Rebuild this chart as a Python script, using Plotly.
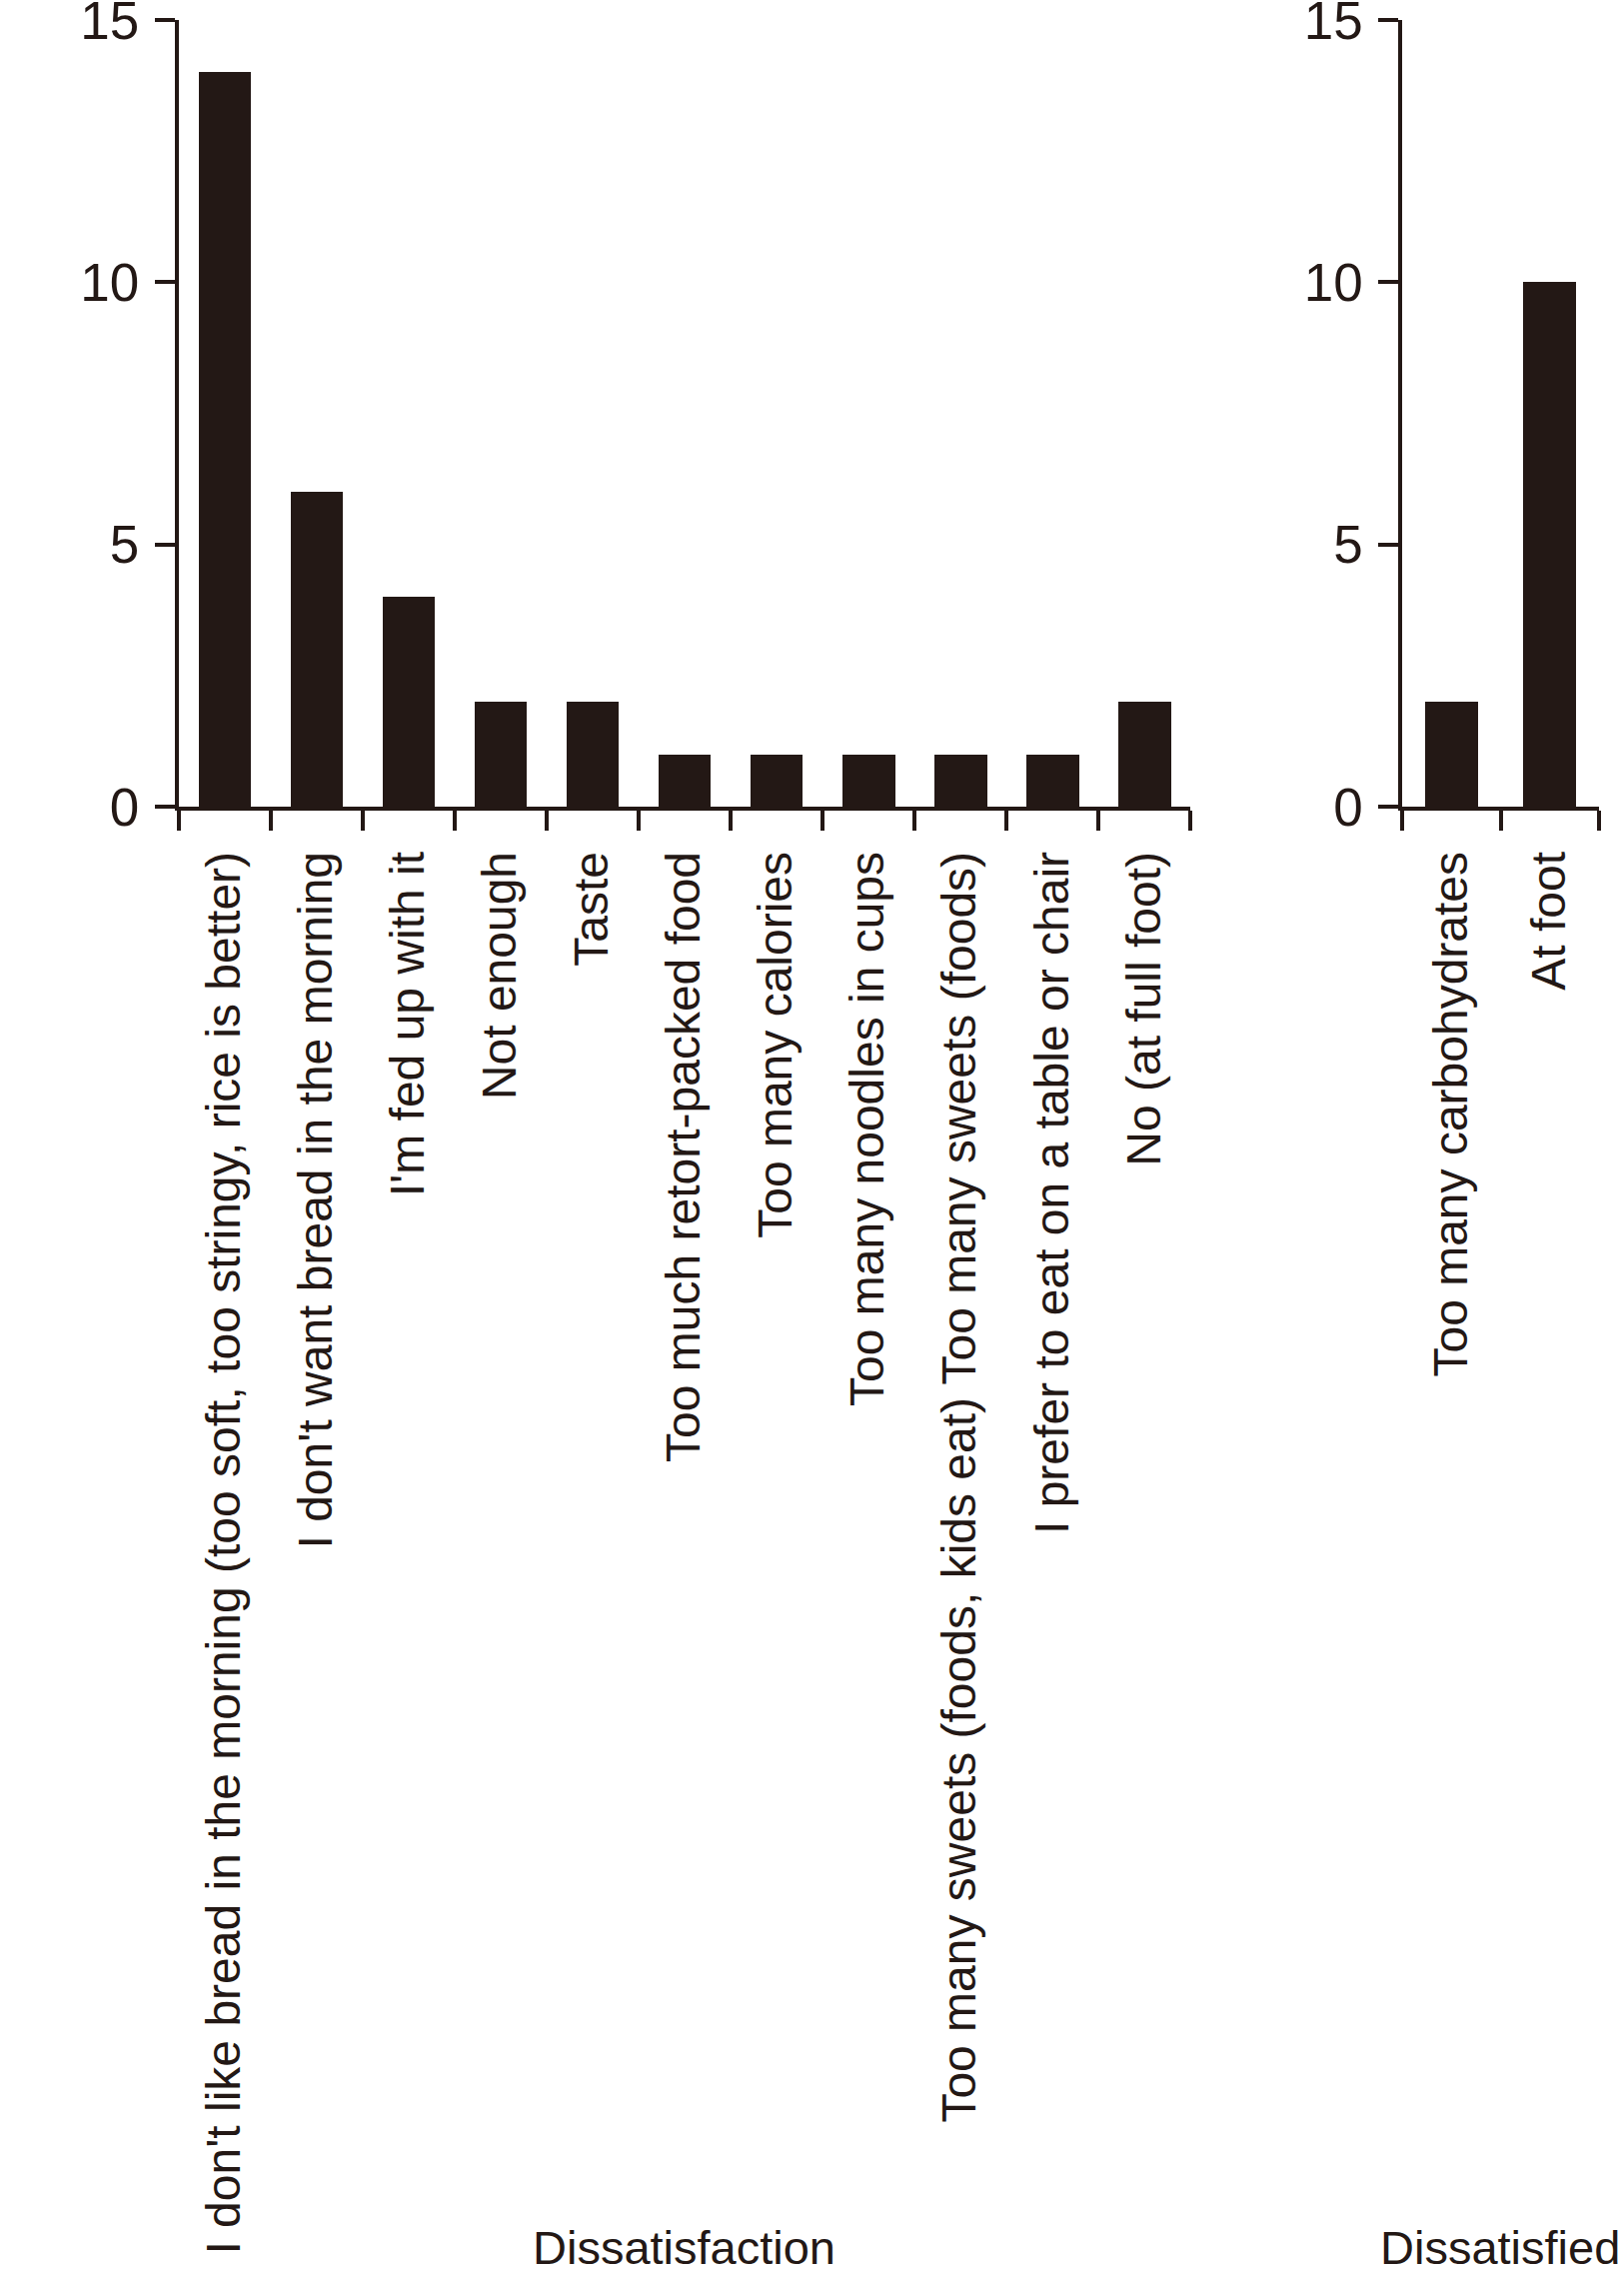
import plotly.graph_objects as go

# ---- data ----
left_categories = [
    "I don't like bread in the morning (too soft, too stringy, rice is better)",
    "I don't want bread in the morning",
    "I'm fed up with it",
    "Not enough",
    "Taste",
    "Too much retort-packed food",
    "Too many calories",
    "Too many noodles in cups",
    "Too many sweets (foods, kids eat) Too many sweets (foods)",
    "I prefer to eat on a table or chair",
    "No (at full foot)",
]
left_values = [14, 6, 4, 2, 2, 1, 1, 1, 1, 1, 2]

right_categories = ["Too many carbohydrates", "At foot"]
right_values = [2, 10]

y_ticks = [0, 5, 10, 15]
left_title = "Dissatisfaction"
right_title = "Dissatisfied"

# ---- style ----
W, H = 1625, 2273
INK = "#231815"
FONT = "Liberation Sans, Arial, Helvetica, sans-serif"
TOP = 20
PLOT_BOTTOM = 807
BOTTOM = H - PLOT_BOTTOM
plot_h = PLOT_BOTTOM - TOP

fig = go.Figure()
fig.add_trace(go.Bar(x=left_categories, y=left_values, marker=dict(color=INK, line=dict(width=0)),
                     width=0.57, xaxis="x", yaxis="y", showlegend=False))
fig.add_trace(go.Bar(x=right_categories, y=right_values, marker=dict(color=INK, line=dict(width=0)),
                     width=0.535, xaxis="x2", yaxis="y2", showlegend=False))

xcommon = dict(
    type="category", showgrid=False, zeroline=False, showline=True, linecolor=INK, linewidth=3.5,
    ticks="outside", ticklen=20, tickwidth=3.5, tickcolor=INK, tickson="boundaries",
    tickangle=-90, tickfont=dict(family=FONT, size=48, color=INK), ticklabelstandoff=22,
    ticklabeloverflow="allow",
)
ycommon = dict(
    range=[0, 15], tickvals=y_ticks, showgrid=False, zeroline=False, showline=True, linecolor=INK,
    linewidth=3.5, ticks="outside", ticklen=20, tickwidth=3.5, tickcolor=INK,
    tickfont=dict(family=FONT, size=53, color=INK), ticklabelstandoff=5, domain=[0, 1],
    ticklabeloverflow="allow",
)

d1 = [178.6 / W, 1191 / W]
d2 = [1403 / W, 1600 / W]

fig.update_layout(
    width=W, height=H,
    margin=dict(l=0, r=0, t=TOP, b=BOTTOM, autoexpand=False),
    paper_bgcolor="white", plot_bgcolor="white",
    bargap=0,
    xaxis=dict(domain=d1, anchor="y", range=[-0.5, len(left_categories) - 0.5], **xcommon),
    yaxis=dict(anchor="x", **ycommon),
    xaxis2=dict(domain=d2, anchor="y2", range=[-0.5, len(right_categories) - 0.5], **xcommon),
    yaxis2=dict(anchor="x2", **ycommon),
)

title_y = -(2248 - PLOT_BOTTOM) / plot_h
fig.add_annotation(text=left_title, xref="paper", yref="paper", x=(d1[0] + d1[1]) / 2, y=title_y,
                   xanchor="center", yanchor="middle", showarrow=False,
                   font=dict(family=FONT, size=47, color=INK))
fig.add_annotation(text=right_title, xref="paper", yref="paper", x=1623 / W, y=title_y,
                   xanchor="right", yanchor="middle", showarrow=False,
                   font=dict(family=FONT, size=47, color=INK))

fig.write_html(
    "out.html",
    config={"displayModeBar": False},
    post_script="document.body.style.margin='0';document.documentElement.style.margin='0';",
)
